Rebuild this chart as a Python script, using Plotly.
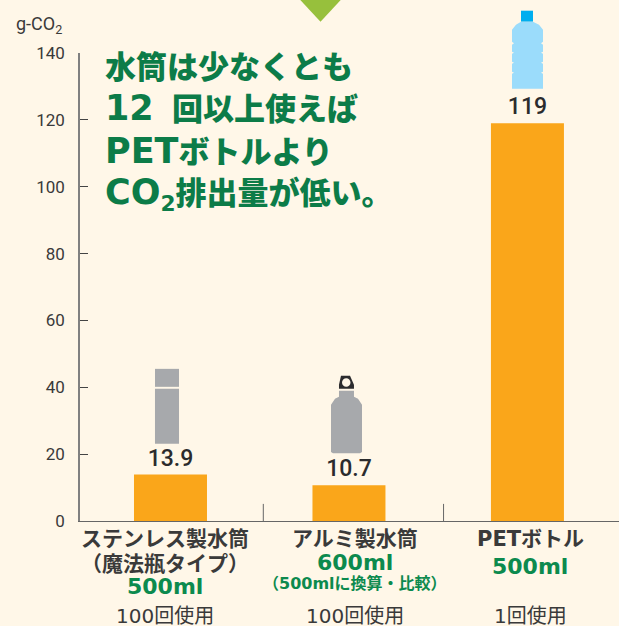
import plotly.graph_objects as go

categories = ["ステンレス製水筒", "アルミ製水筒", "PETボトル"]
values = [13.9, 10.7, 119]
value_labels = ["13.9", "10.7", "119"]
y_ticks = [0, 20, 40, 60, 80, 100, 120, 140]
dividers = [0.52, 1.53]
big = '<span style="font-size:35px">%s</span>'
headline = ["水筒は少なくとも", big % "12\u00a0" + "\u2009回以上使えば", big % "PET" + "ボトルより",
            big % "CO" + "<sub>2</sub>排出量が低い。"]
sublabels = [
    [("（魔法瓶タイプ）", 564, "#3a3a3a", 21, 700), ("500ml", 587, "#0c8a4e", 22, 700), ("100回使用", 616, "#3a3a3a", 20, 400)],
    [("600ml", 563, "#0c8a4e", 22, 700), ("（500mlに換算・比較）", 584, "#0c8a4e", 16, 700), ("100回使用", 616, "#3a3a3a", 20, 400)],
    [("500ml", 567, "#0c8a4e", 22, 700), ("1回使用", 616, "#3a3a3a", 20, 400)],
]
label_offsets = [-0.028, 0.031, 0.017]

W, H = 619, 626
L, R, T, B = 80, 0, 53.3, 104.9
BG = "#fff7e8"
CJK = "DejaVu Sans, Noto Sans CJK JP"


def px(x):
    return (x - L) / (W - L - R)


def py(y):
    return (H - B - y) / (H - T - B)


def path(points, close=True):
    s = "M" + " L".join(f"{px(x):.4f},{py(y):.4f}" for x, y in points)
    return s + (" Z" if close else "")


def poly(points, color):
    return dict(type="path", xref="paper", yref="paper", path=path(points),
                fillcolor=color, line=dict(width=0), layer="above")


GREY = "#a7a9ac"
shapes = [
    poly([(300, 0), (341, 0), (320.5, 22)], "#97c03c"),
    poly([(155, 369), (179, 369), (179, 387), (155, 387)], GREY),
    poly([(155, 389), (179, 389), (179, 444), (155, 444)], GREY),
    poly([(341, 376), (350, 376), (354, 385), (354, 389), (339, 389), (339, 385)], "#2b2b2d"),
    poly([(339, 391), (354, 391), (354, 397), (358, 399), (362, 405), (362, 452), (360, 453.5),
          (333, 453.5), (331, 452), (331, 405), (335, 399), (339, 397)], GREY),
    dict(type="circle", xref="paper", yref="paper", x0=px(342), x1=px(350.5), y0=py(387), y1=py(378.5),
         fillcolor=BG, line=dict(width=0), layer="above"),
    poly([(521, 11), (533, 11), (533, 22), (521, 22)], "#00aeef"),
    poly([(521, 22), (533, 22), (539, 25), (543, 30), (543, 42), (541, 43.5), (543, 45), (543, 52), (541, 53), (543, 54),
          (543, 62), (541, 63), (543, 64), (543, 72), (541, 73), (543, 74), (543, 89), (512, 89), (512, 74), (514, 73),
          (512, 72), (512, 64), (514, 63), (512, 62), (512, 54), (514, 53), (512, 52), (512, 45), (514, 43.5), (512, 42),
          (512, 30), (516, 25)], "#9bdcfb"),
]
for d in dividers:
    shapes.append(dict(type="line", xref="x", yref="paper", x0=d, x1=d, y0=0, y1=py(504),
                       line=dict(color="#666666", width=1)))

ann = []


def label(x, xref, y, text, size, color, weight=400, family=CJK, anchor="center"):
    ann.append(dict(x=x, xref=xref, y=py(y), yref="paper", text=text, showarrow=False, xanchor=anchor,
                    yanchor="middle", font=dict(family=family, size=size, color=color, weight=weight)))


label(px(14), "paper", 25, "g-CO<sub>2</sub>", 18, "#3a3a3a", 400, "Roboto", "left")
for line, y in zip(headline, [67, 108, 151, 194]):
    label(px(102.5), "paper", y, line, 31, "#0c7c48", 900, CJK, "left")

for i, c in enumerate(categories):
    xc = i + label_offsets[i]
    label(xc, "x", 539, c, 21, "#3a3a3a", 700)
    for text, y, color, size, weight in sublabels[i]:
        label(xc, "x", y, text, size, color, weight)

fig = go.Figure(go.Bar(
    x=list(range(len(categories))), y=values, width=0.409, marker=dict(color="#faa61a", line=dict(width=0)),
    text=value_labels, textposition="outside", cliponaxis=False,
    textfont=dict(family="Roboto", size=23, color="#2b2b2d", weight=500),
    hoverinfo="skip",
))
fig.update_layout(
    width=W, height=H, margin=dict(l=L, r=R, t=T, b=B), paper_bgcolor=BG, plot_bgcolor=BG,
    showlegend=False, shapes=shapes, annotations=ann,
    xaxis=dict(range=[-0.507, 2.513], showticklabels=False, ticks="", showgrid=False, zeroline=False,
               showline=True, linecolor="#666666", linewidth=1),
    yaxis=dict(range=[0, 140], tickvals=y_ticks, ticks="inside", ticklen=8, tickcolor="#444444", tickwidth=1,
               showgrid=False, zeroline=False, showline=True, linecolor="#808080", linewidth=1.5,
               tickfont=dict(family="Roboto", size=17, color="#3a3a3a"), ticklabelstandoff=10),
)
fig.write_html("out.html", config=dict(displayModeBar=False),
               post_script="document.body.style.margin='0';document.documentElement.style.background='#fff7e8';document.body.style.overflow='hidden';")
